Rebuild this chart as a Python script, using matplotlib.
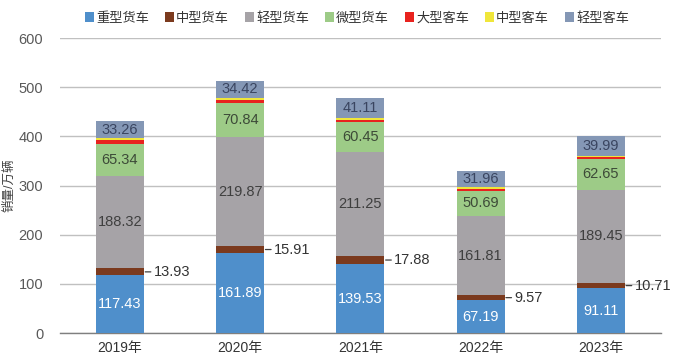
import matplotlib
matplotlib.use("Agg")
import matplotlib.pyplot as plt
from matplotlib.patches import Patch
import numpy as np

plt.rcParams['font.family'] = ['Liberation Sans', 'Noto Sans CJK SC', 'DejaVu Sans']

years = ['2019年', '2020年', '2021年', '2022年', '2023年']
series_names = ['重型货车', '中型货车', '轻型货车', '微型货车', '大型客车', '中型客车', '轻型客车']
heavy_truck = [117.43, 161.89, 139.53, 67.19, 91.11]
medium_truck = [13.93, 15.91, 17.88, 9.57, 10.71]
light_truck = [188.32, 219.87, 211.25, 161.81, 189.45]
micro_truck = [65.34, 70.84, 60.45, 50.69, 62.65]
large_bus = [7.0, 6.0, 5.0, 4.5, 5.0]
medium_bus = [5.0, 4.0, 3.0, 3.0, 2.0]
light_bus = [33.26, 34.42, 41.11, 31.96, 39.99]

colors = ['#4F8FCB', '#7B3A1E', '#A6A3A7', '#9DCB87', '#E8221E', '#F0E63A', '#8497B5']
label_colors = ['white', None, '#3F3F3F', '#3D4A38', None, None, '#3A4560']

series = [heavy_truck, medium_truck, light_truck, micro_truck, large_bus, medium_bus, light_bus]

fig = plt.figure(figsize=(6.8, 3.62), dpi=100)
ax = fig.add_axes([0.088, 0.080, 0.884, 0.815])

x = np.arange(len(years))
width = 0.4
bottom = np.zeros(len(years))
for i, (vals, c) in enumerate(zip(series, colors)):
    vals = np.array(vals)
    ax.bar(x, vals, width, bottom=bottom, color=c, zorder=3, linewidth=0)
    if label_colors[i] is not None:
        for xi, v, b in zip(x, vals, bottom):
            ax.text(xi, b + v / 2, f'{v:.2f}', ha='center', va='center',
                    fontsize=10.5, color=label_colors[i], zorder=4)
    if i == 1:
        for xi, v, b in zip(x, vals, bottom):
            ax.annotate(f'{v:.2f}', xy=(xi + width / 2 + 0.01, b + v / 2),
                        xytext=(xi + width / 2 + 0.08, b + v / 2),
                        ha='left', va='center', fontsize=10.5, color='#333333',
                        arrowprops=dict(arrowstyle='-', color='#404040', lw=0.9,
                                        shrinkA=0, shrinkB=0), zorder=4)
    bottom = bottom + vals

ax.set_ylim(0, 600)
ax.set_xlim(-0.5, len(years) - 0.5)
ax.set_yticks(np.arange(0, 601, 100))
ax.yaxis.grid(True, color='#C0C0C0', lw=1.0, zorder=0)
ax.set_axisbelow(True)
for s in ['top', 'right', 'left']:
    ax.spines[s].set_visible(False)
ax.spines['bottom'].set_color('#7F7F7F')
ax.spines['bottom'].set_linewidth(1.0)
ax.tick_params(axis='y', length=0, labelsize=10.5, labelcolor='#595959', pad=12)
ax.tick_params(axis='x', length=0, labelsize=10, labelcolor='#333333', pad=6)
ax.set_xticks(x)
ax.set_xticklabels(years)
ax.set_ylabel('销量/万辆', fontsize=9, color='#404040', labelpad=2)

handles = [Patch(facecolor=c, edgecolor='none') for c in colors]
fig.legend(handles, series_names, loc='upper center', bbox_to_anchor=(0.525, 1.0),
           ncol=7, frameon=False, fontsize=9.5, handlelength=0.7, handleheight=0.7,
           handletextpad=0.15, columnspacing=1.2, labelcolor='#333333')

fig.savefig('out.png', dpi=100)
